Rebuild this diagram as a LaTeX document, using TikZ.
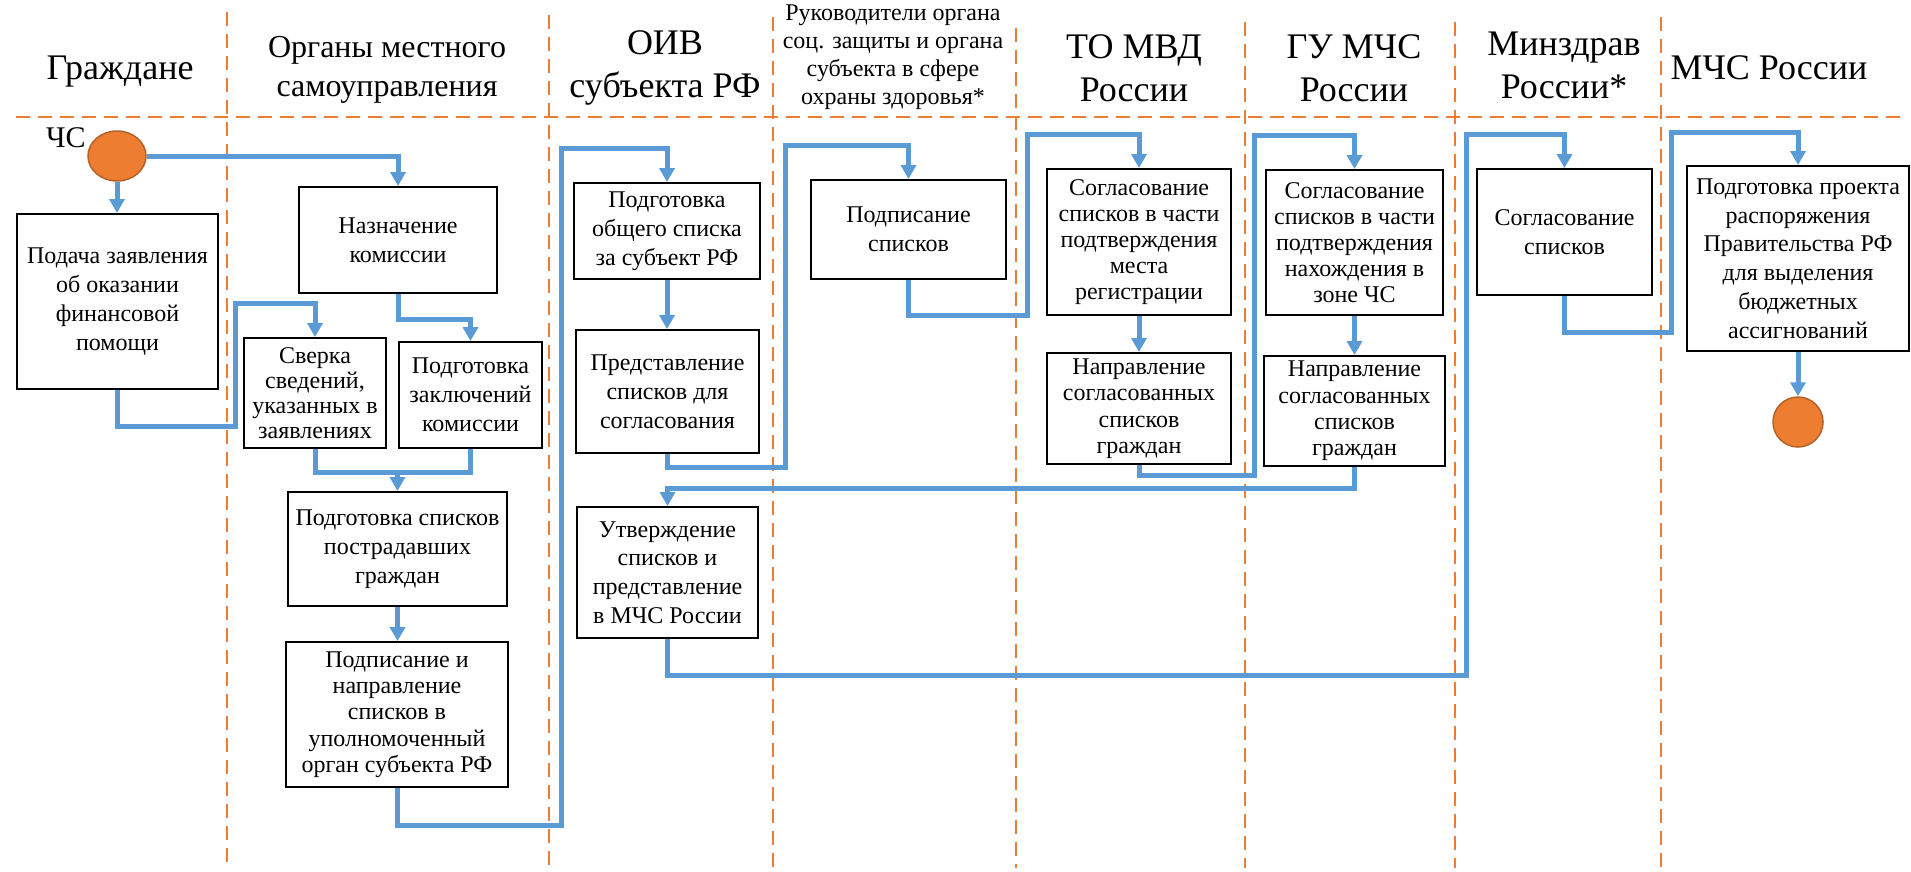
\documentclass[tikz,border=0pt]{standalone}
\usepackage{fontspec}
\setmainfont{Liberation Serif}
\usetikzlibrary{arrows.meta,shapes.geometric}
\definecolor{laneor}{HTML}{ED7D31}
\definecolor{flowbl}{HTML}{5B9BD5}
\definecolor{dotfill}{HTML}{ED7D31}
\definecolor{dotedge}{HTML}{B4612A}
\begin{document}
\begin{tikzpicture}[x=1pt,y=-1pt,
  lane/.style={draw=laneor, line width=2pt, dash pattern=on 14pt off 8pt},
  stepbox/.style={draw=black, line width=2pt, fill=white, align=center, inner sep=0pt, font=\fontsize{24}{28.8}\selectfont},
  dense/.style={font=\fontsize{24}{25.9}\selectfont},
  hdr/.style={align=center, inner sep=0pt, font=\fontsize{36}{43}\selectfont},
  flowline/.style={draw=flowbl, line width=5pt},
  flow/.style={flowline, -{Triangle[width=15pt,length=14pt]}},
  dot/.style={draw=dotedge, line width=1.5pt, fill=dotfill, inner sep=0pt},
]
\useasboundingbox (0,0) rectangle (1911,871);
\fill[white] (0,0) rectangle (1911,871);

% swimlane separators
\draw[lane] (16,117) -- (1907,117);
\draw[lane] (227,12) -- (227,866);
\draw[lane] (549,15) -- (549,867);
\draw[lane] (773,17) -- (773,868);
\draw[lane] (1016,28) -- (1016,868);
\draw[lane] (1245,22) -- (1245,868);
\draw[lane] (1455,22) -- (1455,868);
\draw[lane] (1661,17) -- (1661,868);

% headers
\node[hdr] (h1) at (120,72) {Граждане};
\node[hdr, font=\fontsize{32}{39}\selectfont] (h2) at (387,70) {Органы местного\\самоуправления};
\node[hdr] (h3) at (665,68) {ОИВ\\субъекта РФ};
\node[hdr, font=\fontsize{24}{27.8}\selectfont] (h4) at (893,57) {Руководители органа\\соц. защиты и органа\\субъекта в сфере\\охраны здоровья*};
\node[hdr] (h5) at (1134,68.5) {ТО МВД\\России};
\node[hdr] (h6) at (1354,68) {ГУ МЧС\\России};
\node[hdr] (h7) at (1564,65.5) {Минздрав\\России*};
\node[hdr] (h8) at (1769,68) {МЧС России};

% start / end
\node[dot, ellipse, minimum width=58pt, minimum height=50pt] (start) at (117,156) {};
\node[inner sep=0pt, font=\fontsize{30}{34}\selectfont] (cs) at (66,138) {ЧС};
\node[dot, circle, minimum size=50pt] (endc) at (1798,422) {};

% boxes
\node[stepbox, minimum width=201pt, minimum height=175pt] (podacha) at (117.5,301.5) {Подача заявления\\об оказании\\финансовой\\помощи};
\node[stepbox, minimum width=198pt, minimum height=106pt] (naz) at (398,240) {Назначение\\комиссии};
\node[stepbox, dense, font=\fontsize{24}{25.2}\selectfont, minimum width=142pt, minimum height=110pt] (sverka) at (315,393) {Сверка\\сведений,\\указанных в\\заявлениях};
\node[stepbox, minimum width=143pt, minimum height=106pt] (zakl) at (470.5,395) {Подготовка\\заключений\\комиссии};
\node[stepbox, minimum width=219pt, minimum height=114pt] (spiski) at (397.5,549) {Подготовка списков\\пострадавших\\граждан};
\node[stepbox, font=\fontsize{24}{26.3}\selectfont, minimum width=222pt, minimum height=145pt] (podpnapr) at (397,714.5) {Подписание и\\направление\\списков в\\уполномоченный\\орган субъекта РФ};
\node[stepbox, minimum width=186pt, minimum height=96pt] (obsh) at (667,231) {Подготовка\\общего списка\\за субъект РФ};
\node[stepbox, minimum width=183pt, minimum height=123pt] (pred) at (667.5,391.5) {Представление\\списков для\\согласования};
\node[stepbox, minimum width=181pt, minimum height=131pt] (utv) at (667.5,572.5) {Утверждение\\списков и\\представление\\в МЧС России};
\node[stepbox, minimum width=195pt, minimum height=99pt] (podp) at (908.5,229.5) {Подписание\\списков};
\node[stepbox, dense, minimum width=184pt, minimum height=146pt] (mvd1) at (1139,242) {Согласование\\списков в части\\подтверждения\\места\\регистрации};
\node[stepbox, font=\fontsize{24}{26.4}\selectfont, minimum width=184pt, minimum height=111pt] (mvd2) at (1139,408.5) {Направление\\согласованных\\списков\\граждан};
\node[stepbox, dense, minimum width=177pt, minimum height=145pt] (gu1) at (1354.5,242.5) {Согласование\\списков в части\\подтверждения\\нахождения в\\зоне ЧС};
\node[stepbox, font=\fontsize{24}{26.4}\selectfont, minimum width=181pt, minimum height=110pt] (gu2) at (1354.5,411) {Направление\\согласованных\\списков\\граждан};
\node[stepbox, minimum width=175pt, minimum height=126pt] (mz) at (1564.5,232) {Согласование\\списков};
\node[stepbox, minimum width=222pt, minimum height=185pt] (mchs) at (1798,258.5) {Подготовка проекта\\распоряжения\\Правительства РФ\\для выделения\\бюджетных\\ассигнований};

% connectors
\draw[flow] (start.south) -- (start.south |- podacha.north);
\draw[flow] (start.east) -| (naz.north);
\draw[flow] (podacha.south) |- (235,426) -- (235,303) -| (sverka.north);
\draw[flow] (naz.south) -- ++(0,25) -| (zakl.north);
\coordinate (j1) at (spiski.north |- 0,472);
\draw[flowline] (sverka.south) |- (j1) -| (zakl.south);
\draw[flow] (j1) -- (spiski.north);
\draw[flow] (spiski.south) -- (spiski.south |- podpnapr.north);
\draw[flow] (podpnapr.south) |- (561,825) -- (561,148) -| (obsh.north);
\draw[flow] (obsh.south) -- (obsh.south |- pred.north);
\draw[flow] (pred.south) |- (785,467) -- (785,145) -| (podp.north);
\draw[flow] (podp.south) |- (1027,315) -- (1027,134) -| (mvd1.north);
\draw[flow] (mvd1.south) -- (mvd1.south |- mvd2.north);
\draw[flow] (mvd2.south) |- (1254,475) -- (1254,135) -| (gu1.north);
\draw[flow] (gu1.south) -- (gu1.south |- gu2.north);
\draw[flow] (gu2.south) -- ++(0,21) -| (utv.north);
\draw[flow] (utv.south) |- (1466,675) -- (1466,134) -| (mz.north);
\draw[flow] (mz.south) |- (1671,332) -- (1671,132) -| (mchs.north);
\draw[flow] (mchs.south) -- (endc.north);
\end{tikzpicture}
\end{document}
